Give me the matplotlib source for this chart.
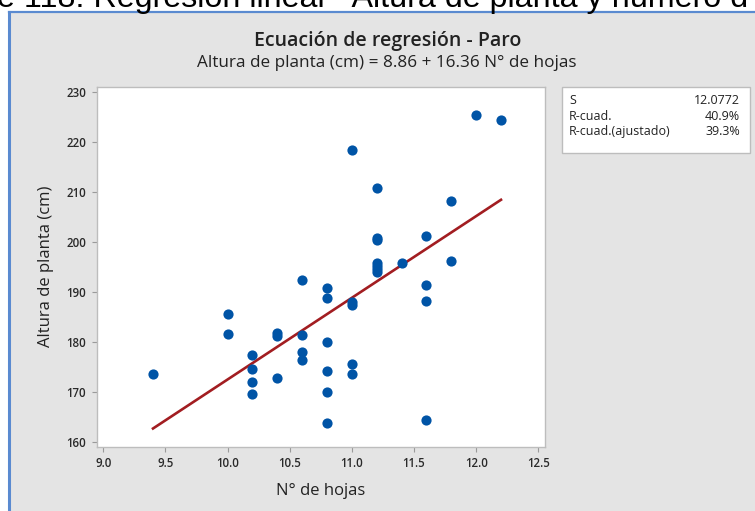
import matplotlib
matplotlib.use("Agg")
import matplotlib.pyplot as plt
from matplotlib.patches import Rectangle
from matplotlib.lines import Line2D
import numpy as np

plt.rcParams['font.family'] = ['Open Sans', 'DejaVu Sans']

# Data
n_hojas = [9.4,
           10.0, 10.0,
           10.2, 10.2, 10.2, 10.2,
           10.4, 10.4, 10.4,
           10.6, 10.6, 10.6, 10.6,
           10.8, 10.8, 10.8, 10.8, 10.8, 10.8,
           11.0, 11.0, 11.0, 11.0, 11.0,
           11.2, 11.2, 11.2, 11.2, 11.2, 11.2, 11.2,
           11.4,
           11.6, 11.6, 11.6, 11.6,
           11.8, 11.8,
           12.0,
           12.2]
altura = [173.5,
          185.5, 181.6,
          177.4, 174.5, 171.9, 169.5,
          181.7, 181.1, 172.7,
          192.4, 181.3, 177.9, 176.3,
          190.7, 188.7, 180.0, 174.2, 170.0, 163.7,
          218.5, 187.9, 187.3, 175.6, 173.5,
          210.8, 200.8, 200.3, 195.8, 195.1, 194.5, 194.0,
          195.8,
          201.1, 191.3, 188.2, 164.3,
          208.2, 196.1,
          225.5,
          224.5]
intercept = 8.86
slope = 16.36
stat_names = ["S", "R-cuad.", "R-cuad.(ajustado)"]
stat_values = ["12.0772", "40.9%", "39.3%"]
x_ticks = [9.0, 9.5, 10.0, 10.5, 11.0, 11.5, 12.0, 12.5]
y_ticks = [160, 170, 180, 190, 200, 210, 220, 230]

W, H = 755, 511
fig = plt.figure(figsize=(W / 100, H / 100), dpi=100)
fig.patch.set_facecolor("white")

# Gray panel with blue border (left and top)
panel_x0 = 9 / W
panel_top = 1 - 12 / H
fig.patches.append(Rectangle((panel_x0, 0), 1 - panel_x0, panel_top,
                             transform=fig.transFigure, facecolor="#e4e4e4",
                             edgecolor="none", zorder=-2))
fig.lines.append(Line2D([panel_x0, panel_x0], [0, panel_top], transform=fig.transFigure,
                        color="#5a8ad0", lw=2.2, zorder=-1))
fig.lines.append(Line2D([panel_x0, 1], [panel_top, panel_top], transform=fig.transFigure,
                        color="#5a8ad0", lw=1.6, zorder=-1))

# Cropped caption text at top
fig.text(-0.004, 1 - 7.0 / H, "e 118. Regresión lineal - Altura de planta y número d",
         family=['Liberation Sans', 'DejaVu Sans'], fontsize=23.2, color="black",
         ha="left", va="baseline", zorder=-1)

# Axes
left, right = 96.7 / W, 545 / W
bottom, top = 1 - 446.7 / H, 1 - 86.7 / H
ax = fig.add_axes([left, bottom, right - left, top - bottom], zorder=2)
ax.set_facecolor("white")
ax.scatter(n_hojas, altura, s=54, color="#0054a6", zorder=3, linewidths=0)
xl = np.array([min(n_hojas), max(n_hojas)])
ax.plot(xl, intercept + slope * xl, color="#a21d21", lw=1.9, zorder=2)

ax.set_xlim(8.947, 12.554)
ax.set_ylim(159.0, 231.1)
ax.set_xticks(x_ticks)
ax.set_xticklabels([f"{v:.1f}" for v in x_ticks])
ax.set_yticks(y_ticks)
ax.set_yticklabels([str(v) for v in y_ticks])
for sp in ax.spines.values():
    sp.set_color("#bdbdbd")
    sp.set_linewidth(1.0)
ax.tick_params(direction="out", length=3.5, width=0.8, color="#9a9a9a",
               labelsize=8.3, labelcolor="#2a2a2a", pad=4)
for lbl in ax.get_xticklabels() + ax.get_yticklabels():
    lbl.set_fontweight("semibold")

ax.set_xlabel("N° de hojas", fontsize=12, color="#222222", labelpad=9)
ax.set_ylabel("Altura de planta (cm)", fontsize=12, color="#222222", labelpad=9)

# Titles
fig.text(388 / W, 1 - 41 / H, "Ecuación de regresión - Paro", ha="center", va="center",
         fontsize=14, fontweight="semibold", color="#222222")
fig.text(387 / W, 1 - 63 / H, "Altura de planta (cm) = 8.86 + 16.36 N° de hojas",
         ha="center", va="center", fontsize=12.3, color="#222222")

# Stats box
bx0, bx1 = 562 / W, 750 / W
by0, by1 = 1 - 153 / H, 1 - 87 / H
fig.patches.append(Rectangle((bx0, by0), bx1 - bx0, by1 - by0, transform=fig.transFigure,
                             facecolor="white", edgecolor="#bdbdbd", lw=1.0, zorder=2))
rows_y = [101, 116, 131]
for name, val, yy in zip(stat_names, stat_values, rows_y):
    fig.text(569 / W, 1 - yy / H, name, ha="left", va="center", fontsize=9,
             color="#222222", zorder=3)
    fig.text(740 / W, 1 - yy / H, val, ha="right", va="center", fontsize=9,
             color="#222222", zorder=3)

fig.savefig("out.png", dpi=100)
